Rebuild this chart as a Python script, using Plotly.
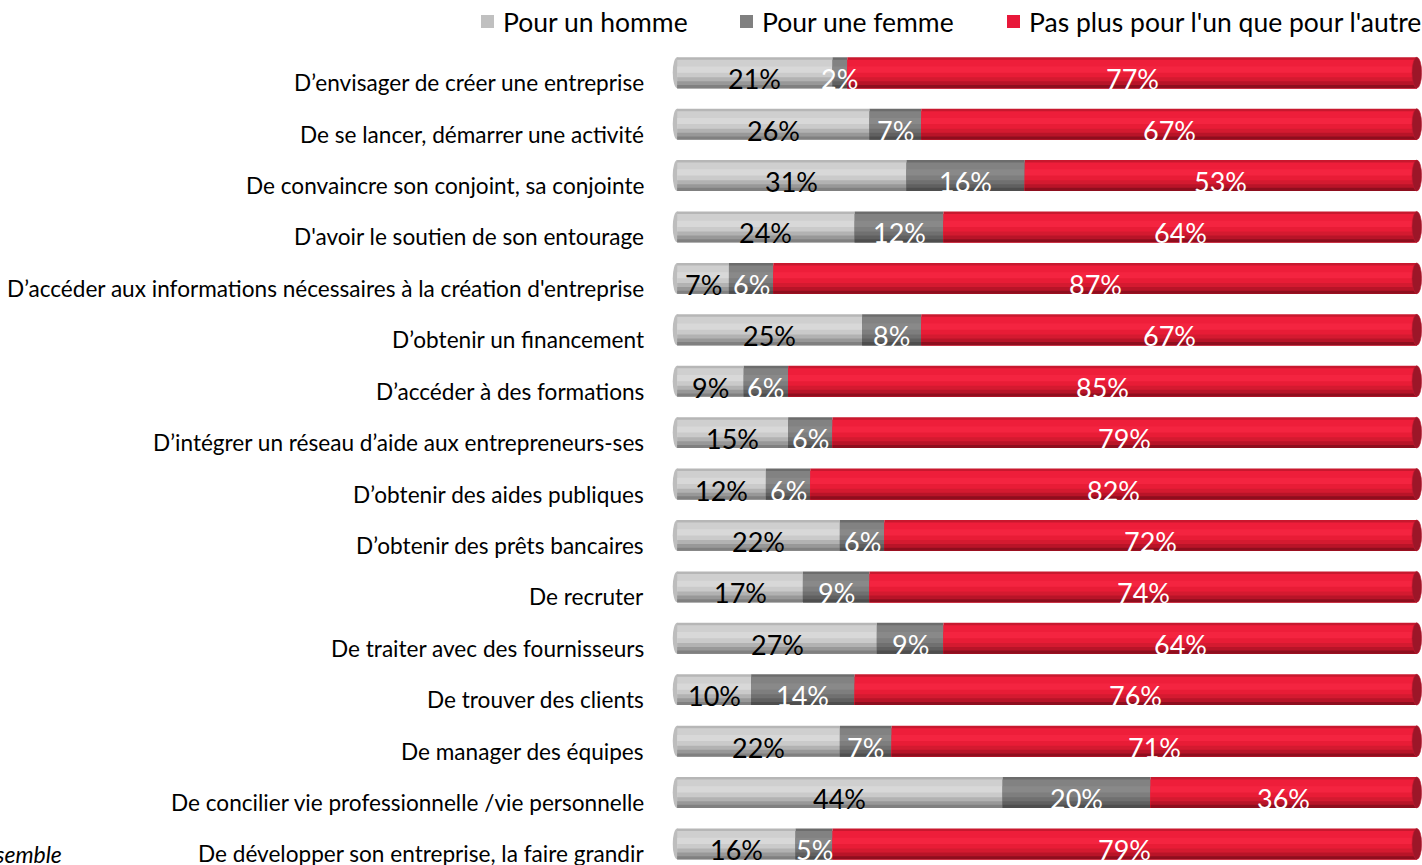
import plotly.graph_objects as go

categories = [
    "D’envisager de créer une entreprise",
    "De se lancer, démarrer une activité",
    "De convaincre son conjoint, sa conjointe",
    "D'avoir le soutien de son entourage",
    "D’accéder aux informations nécessaires à la création d'entreprise",
    "D’obtenir un financement",
    "D’accéder à des formations",
    "D’intégrer un réseau d’aide aux entrepreneurs-ses",
    "D’obtenir des aides publiques",
    "D’obtenir des prêts bancaires",
    "De recruter",
    "De traiter avec des fournisseurs",
    "De trouver des clients",
    "De manager des équipes",
    "De concilier vie professionnelle /vie personnelle",
    "De développer son entreprise, la faire grandir",
]
pour_homme = [21, 26, 31, 24, 7, 25, 9, 15, 12, 22, 17, 27, 10, 22, 44, 16]
pour_femme = [2, 7, 16, 12, 6, 8, 6, 6, 6, 6, 9, 9, 14, 7, 20, 5]
pas_plus = [77, 67, 53, 64, 87, 67, 85, 79, 82, 72, 74, 64, 76, 71, 36, 79]
series_names = ["Pour un homme", "Pour une femme", "Pas plus pour l'un que pour l'autre"]
side_label = "Ensemble"

FONT = "Lato, 'Liberation Sans', sans-serif"
W, H = 1422, 865
L, R, T, B = 672, 0, 47, 0
PW, PH = W - L - R, H - T - B

def px_x(px):
    return (px - L) / PW

def px_y(py):
    return 1 - (py - T) / PH

series = [pour_homme, pour_femme, pas_plus]
legend_colors = ["#c0c0c0", "#808080", "#e8183a"]
label_colors = ["black", "white", "white"]
band_edges = [0, 0.08, 0.3, 0.5, 0.65, 0.78, 0.9]
band_colors = [
    ["#b6b6b6", "#cfcfcf", "#d8d8d8", "#cacaca", "#b2b2b2", "#989898", "#808080"],
    ["#6c6c6c", "#828282", "#898989", "#7e7e7e", "#707070", "#606060", "#4e4e4e"],
    ["#c8182e", "#ee1e3a", "#f42440", "#e81c36", "#d41a30", "#b81428", "#8e0e1e"],
]
BAR_W = 0.6

n = len(categories)
ypos = list(range(n))
fig = go.Figure()

bases = []
run = [0] * n
for vals in series:
    bases.append(list(run))
    run = [a + b for a, b in zip(run, vals)]
totals = run

for s, vals in enumerate(series):
    for b, f0 in enumerate(band_edges):
        fig.add_trace(go.Bar(
            orientation="h", y=ypos, x=vals, base=bases[s],
            offset=-BAR_W / 2 + f0 * BAR_W, width=(1 - f0) * BAR_W,
            marker=dict(color=band_colors[s][b], line=dict(width=0)),
            showlegend=False, hoverinfo="skip",
        ))

shapes = []
for i in range(n):
    shapes.append(dict(type="circle", xref="x", yref="y", layer="below",
                       x0=-0.6, x1=0.6, y0=i - BAR_W / 2, y1=i + BAR_W / 2,
                       fillcolor="#bdbdbd", line=dict(width=0)))
    shapes.append(dict(type="circle", xref="x", yref="y", layer="above",
                       x0=totals[i] - 0.65, x1=totals[i] + 0.65,
                       y0=i - BAR_W / 2, y1=i + BAR_W / 2,
                       fillcolor="#9c1628", line=dict(width=0.6, color="#c01a30")))

annotations = []
for i, cat in enumerate(categories):
    annotations.append(dict(xref="paper", yref="y", x=0, y=i, xshift=-26, yshift=-10,
                            text=cat, showarrow=False, xanchor="right", yanchor="middle",
                            font=dict(family=FONT, size=22.6, color="black")))
    for s, vals in enumerate(series):
        annotations.append(dict(xref="x", yref="y", x=bases[s][i] + vals[i] / 2, y=i,
                                yshift=-6, text=f"{vals[i]}%", showarrow=False,
                                xanchor="center", yanchor="middle",
                                font=dict(family=FONT, size=27, color=label_colors[s])))

annotations.append(dict(xref="paper", yref="y", x=px_x(64), y=n - 1, yshift=-10,
                        text=f"<i>{side_label}</i>", showarrow=False, xanchor="right",
                        yanchor="middle", font=dict(family=FONT, size=23, color="black")))

leg_sq = [481, 740, 1007]
for k, name in enumerate(series_names):
    shapes.append(dict(type="rect", xref="paper", yref="paper",
                       x0=px_x(leg_sq[k]), x1=px_x(leg_sq[k] + 13),
                       y0=px_y(28), y1=px_y(15),
                       fillcolor=legend_colors[k], line=dict(width=0)))
    annotations.append(dict(xref="paper", yref="paper", x=px_x(leg_sq[k] + 20), y=px_y(22),
                            text=name, showarrow=False, xanchor="left", yanchor="middle",
                            font=dict(family=FONT, size=26.5, color="black")))

fig.update_layout(
    width=W, height=H,
    margin=dict(l=L, r=R, t=T, b=B, pad=0),
    barmode="overlay",
    plot_bgcolor="white", paper_bgcolor="white",
    xaxis=dict(range=[-0.7, 100.7], visible=False, fixedrange=True),
    yaxis=dict(range=[n - 1 + 0.41, -0.5], visible=False, fixedrange=True),
    shapes=shapes, annotations=annotations,
    showlegend=False,
    font=dict(family=FONT),
)

fig.write_html("out.html", config={"displayModeBar": False},
               post_script="document.body.style.margin='0';document.body.style.overflow='hidden';")
